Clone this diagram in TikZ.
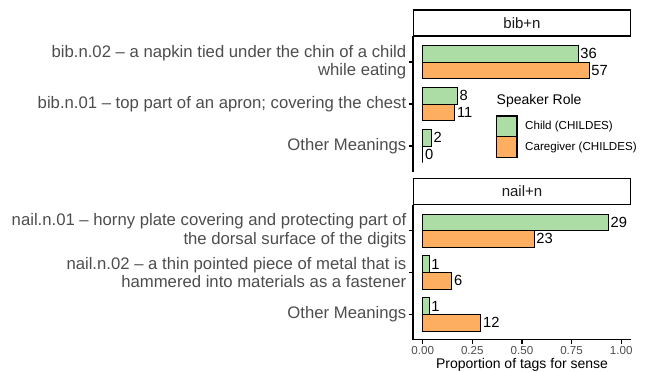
\documentclass[tikz,border=0pt]{standalone}
\usepackage{fontspec}
\setmainfont{Liberation Sans}
\usepackage{xcolor}
\usepackage{tikz}
\usetikzlibrary{positioning}
\definecolor{kidGreen}{HTML}{ABDDA4}
\definecolor{careOrange}{HTML}{FDAE61}
\definecolor{axGray}{HTML}{4D4D4D}
\definecolor{stripInk}{HTML}{1A1A1A}

\begin{document}
\begin{tikzpicture}[x=1pt, y=-1pt,
    bar/.style={draw=black, line width=0.9pt},
    axline/.style={draw=black, line width=1.1pt},
    sense/.style={anchor=east, align=right, text=axGray, inner sep=0pt,
                  font=\fontsize{16.7}{18.3}\selectfont},
    count/.style={anchor=west, inner sep=0pt, font=\fontsize{14.7}{16}\selectfont},
    facet/.style={draw=black, line width=1.3pt, minimum width=217pt, minimum height=26pt,
                  inner sep=0pt, text=stripInk, font=\fontsize{15}{17}\selectfont},
    keybox/.style={draw=black, line width=1.1pt}]
    \useasboundingbox (0,0) rectangle (646,372);

    \node[facet] (bibstrip) at (522,23) {bib+n};
    \node[facet] (nailstrip) at (522,191.3) {nail+n};

    \draw[axline] (413,36.3) -- (413,171.5);
    \draw[axline] (413,204.5) -- (413,339.5) -- (631,339.5);

    \foreach \yc/\lab [count=\i] in {62/{bib.n.02 – a napkin tied under the chin of a child\\while eating},
                                      104/{bib.n.01 – top part of an apron; covering the chest},
                                      146/{Other Meanings}}{
      \node[sense] (bibsense\i) at (406.5,\yc) {\lab};
      \draw[axline] (408.5,\yc) -- (413,\yc);
    }
    \foreach \yc/\lab [count=\i] in {230.6/{nail.n.01 – horny plate covering and protecting part of\\the dorsal surface of the digits},
                                      272.5/{nail.n.02 – a thin pointed piece of metal that is\\hammered into materials as a fastener},
                                      314.5/{Other Meanings}}{
      \node[sense] (nailsense\i) at (406.5,\yc) {\lab};
      \draw[axline] (408.5,\yc) -- (413,\yc);
    }

    \foreach \yc/\nk/\nc [count=\i] in {62/36/57, 104/8/11, 146/2/0}{
      \draw[bar, fill=kidGreen] (422.7,{\yc-16.6}) rectangle ({422.7+198.5*\nk/46},\yc);
      \draw[bar, fill=careOrange] (422.7,\yc) rectangle ({422.7+198.5*\nc/68},{\yc+16.6});
      \node[count] (bibkid\i) at ({424.8+198.5*\nk/46},{\yc-8.3}) {\nk};
      \node[count] (bibcare\i) at ({424.8+198.5*\nc/68},{\yc+8.3}) {\nc};
    }
    \foreach \yc/\nk/\nc [count=\i] in {230.6/29/23, 272.5/1/6, 314.5/1/12}{
      \draw[bar, fill=kidGreen] (422.7,{\yc-16.6}) rectangle ({422.7+198.5*\nk/31},\yc);
      \draw[bar, fill=careOrange] (422.7,\yc) rectangle ({422.7+198.5*\nc/41},{\yc+16.6});
      \node[count] (nailkid\i) at ({424.8+198.5*\nk/31},{\yc-8.3}) {\nk};
      \node[count] (nailcare\i) at ({424.8+198.5*\nc/41},{\yc+8.3}) {\nc};
    }

    \foreach \v/\t in {0/0.00, 0.25/0.25, 0.5/0.50, 0.75/0.75, 1/1.00}{
      \draw[axline] ({422.7+198.5*\v},339.5) -- ({422.7+198.5*\v},343.5);
      \node[text=axGray, font=\fontsize{11.6}{13}\selectfont] (xt\t) at ({422.7+198.5*\v},351) {\t};
    }
    \node[font=\fontsize{14}{16}\selectfont] (xtitle) at (522,365) {Proportion of tags for sense};

    \node[anchor=west, inner sep=0pt, font=\fontsize{14}{16}\selectfont] (legtitle) at (496.5,101) {Speaker Role};
    \draw[keybox, fill=kidGreen] (496.5,116) rectangle (517,136.5);
    \draw[keybox, fill=careOrange] (496.5,136.5) rectangle (517,157.5);
    \node[anchor=west, inner sep=0pt, font=\fontsize{11.6}{13}\selectfont] (legkid) at (525,126.5) {Child (CHILDES)};
    \node[anchor=west, inner sep=0pt, font=\fontsize{11.6}{13}\selectfont] (legcare) at (525,147.5) {Caregiver (CHILDES)};
\end{tikzpicture}
\end{document}
